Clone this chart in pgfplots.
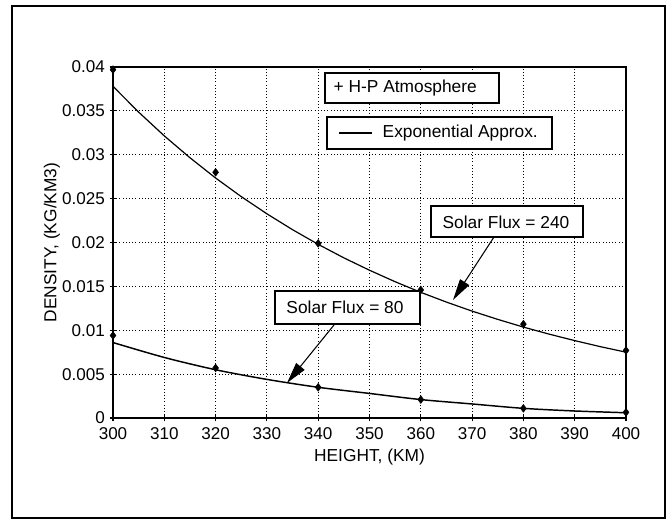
\documentclass[border=0pt]{standalone}
\usepackage{fontspec}
\setmainfont{Liberation Sans}
\usepackage{pgfplots}
\pgfplotsset{compat=1.18}
\usetikzlibrary{arrows.meta}
\pgfplotstableread{
x y
300 0.0397
320 0.0280
340 0.0199
360 0.0146
380 0.0107
400 0.0077
}\hpHigh
\pgfplotstableread{
x y
300 0.0094
320 0.0057
340 0.0035
360 0.0021
380 0.0011
400 0.00065
}\hpLow
\pgfplotstableread{
x y
300 0.03780
305 0.03486
310 0.03215
315 0.02966
320 0.02735
325 0.02523
330 0.02327
335 0.02146
340 0.01979
345 0.01825
350 0.01684
355 0.01553
360 0.01432
365 0.01321
370 0.01218
375 0.01124
380 0.01036
385 0.00956
390 0.00882
395 0.00813
400 0.00750
}\expHigh
\pgfplotstableread{
x y
300 0.0086
310 0.0069
320 0.0055
330 0.0044
340 0.0035
350 0.0028
360 0.0021
370 0.0016
380 0.0011
390 0.0008
400 0.0006
}\expLow
\begin{document}
\begin{tikzpicture}
\begin{axis}[
  at={(84.75pt,-313.5pt)}, anchor=south west,
  scale only axis, width=384.75pt, height=263.25pt,
  xmin=300, xmax=400, ymin=0, ymax=0.04,
  xtick={300,310,...,400},
  ytick={0,0.005,0.01,0.015,0.02,0.025,0.03,0.035,0.04},
  scaled y ticks=false,
  yticklabel style={/pgf/number format/fixed, /pgf/number format/precision=3},
  xticklabel style={yshift=-1.5pt},
  /pgf/number format/assume math mode=true,
  tick label style={font=\fontsize{12.8}{14}\selectfont},
  label style={font=\fontsize{13}{15}\selectfont},
  xlabel={HEIGHT, (KM)},
  ylabel={DENSITY, (KG/KM3)},
  xlabel style={at={(axis description cs:0.5,-0.111)}, anchor=center},
  ylabel style={at={(axis description cs:-0.119,0.5)}, anchor=center},
  tick pos=left, tick align=center, major tick length=5pt,
  grid=major,
  major grid style={black, dotted, line width=0.7pt},
  axis line style={line width=1.1pt},
  every tick/.style={black, line width=0.8pt},
  clip=false,
]
\addplot[black, line width=0.9pt] table {\expHigh};
\addplot[black, line width=1.1pt, smooth] table {\expLow};
\addplot[only marks, mark=diamond*, mark size=2.9pt, black] table {\hpHigh};
\addplot[only marks, mark=diamond*, mark size=2.9pt, black] table {\hpLow};
\end{axis}
\begin{scope}[x=0.75pt, y=-0.75pt]
\useasboundingbox (0,0) rectangle (672,521);
\draw[line width=1.6pt] (12,6) rectangle (665,518);
% legend boxes
\draw[line width=0.9pt, fill=white] (325,73) rectangle (499,103);
\draw[line width=1.6pt] (325,103) -- (499,103);
\node[font=\fontsize{13}{15}\selectfont, anchor=west] at (329,88) {+ H-P Atmosphere};
\draw[line width=0.9pt, fill=white] (327,117) rectangle (552,149);
\draw[line width=1.6pt] (327,149) -- (552,149);
\draw[line width=1pt] (339,133) -- (372,133);
\node[font=\fontsize{13}{15}\selectfont, anchor=west] at (378,133) {Exponential Approx.};
% annotations
\draw[line width=0.9pt, fill=white] (431,206) rectangle (583,237);
\draw[line width=1.6pt] (431,237) -- (583,237);
\node[font=\fontsize{13}{15}\selectfont] at (506,222) {Solar Flux = 240};
\draw[line width=0.8pt, -{Triangle[length=16pt,width=8pt]}] (494,237) -- (453,300);
\draw[line width=0.9pt, fill=white] (275,291) rectangle (420,324);
\draw[line width=1.6pt] (275,324) -- (420,324);
\node[font=\fontsize{13}{15}\selectfont] at (345,307) {Solar Flux = 80};
\draw[line width=0.8pt, -{Triangle[length=16pt,width=8pt]}] (334,325) -- (287,383);
\end{scope}
\end{tikzpicture}
\end{document}
